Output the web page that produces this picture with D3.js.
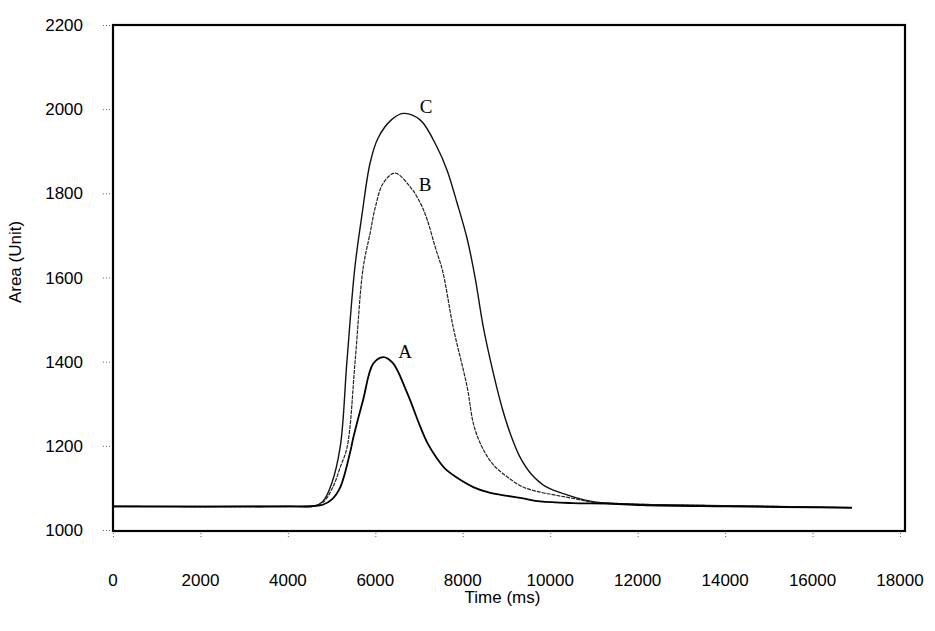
<!DOCTYPE html>
<html>
<head>
<meta charset="utf-8">
<script src="https://cdn.jsdelivr.net/npm/d3@7"></script>
<style>
  body { margin: 0; background: #fff; }
  text { font-family: "Liberation Sans", Arial, sans-serif; }
</style>
</head>
<body>
<div id="chart"></div>
<script>
// Chart data
var xTicks = [0, 2000, 4000, 6000, 8000, 10000, 12000, 14000, 16000, 18000];
var yTicks = [1000, 1200, 1400, 1600, 1800, 2000, 2200];

var timeA = [0, 4000, 4600, 4800, 5000, 5200, 5420, 5500, 5720, 5950, 6180, 6400, 6730, 7030, 7190, 7410, 7600, 7870, 8240, 8630, 9020, 9380, 9770, 10500, 11300, 12100, 14000, 16900];
var areaA = [1056, 1056, 1057, 1060, 1072, 1102, 1183, 1221, 1309, 1395, 1411, 1397, 1325, 1245, 1207, 1170, 1145, 1124, 1102, 1088, 1081, 1075, 1068, 1064, 1063, 1059, 1056, 1053];

var timeB = [0, 4000, 4600, 4800, 5030, 5200, 5355, 5540, 5720, 5880, 6000, 6180, 6450, 6800, 7030, 7190, 7370, 7540, 7780, 8100, 8250, 8450, 8700, 9020, 9380, 9770, 10160, 10530, 10920, 11300, 12500, 14500, 16900];
var areaB = [1056, 1056, 1057, 1065, 1102, 1150, 1197, 1404, 1622, 1705, 1767, 1824, 1848, 1815, 1777, 1736, 1672, 1615, 1482, 1340, 1250, 1195, 1155, 1126, 1102, 1090, 1082, 1075, 1067, 1064, 1060, 1057, 1053];

var timeC = [0, 4000, 4600, 4800, 5000, 5200, 5350, 5530, 5700, 5880, 6060, 6360, 6640, 7030, 7410, 7640, 7870, 8100, 8280, 8470, 8700, 8900, 9100, 9300, 9550, 9900, 10400, 10800, 11200, 12500, 14500, 16900];
var areaC = [1056, 1056, 1057, 1068, 1110, 1200, 1400, 1622, 1753, 1872, 1931, 1974, 1990, 1974, 1910, 1855, 1777, 1692, 1601, 1482, 1372, 1290, 1225, 1175, 1135, 1103, 1083, 1071, 1064, 1060, 1057, 1053];

var curveNames = ["A", "B", "C"];
var labelTime = [6680, 7140, 7160];
var labelArea = [1408, 1805, 1990];

var svgWidth = 935;
var svgHeight = 631;

var margin = { top: 25, left: 113 };
var width = 787;
var height = 505;

var svg = d3.select("#chart")
  .append("svg")
  .attr("width", svgWidth)
  .attr("height", svgHeight);

var chartGroup = svg.append("g")
  .attr("transform", `translate(${margin.left}, ${margin.top})`);

var xScale = d3.scaleLinear().domain([0, 18000]).range([0, width]);
var yScale = d3.scaleLinear().domain([1000, 2200]).range([height, 0]);

// dotted tick marks, labels drawn separately
var bottomAxis = d3.axisBottom(xScale).tickValues(xTicks).tickSize(8).tickFormat("");
var leftAxis = d3.axisLeft(yScale).tickValues(yTicks).tickSize(10).tickFormat("");

var xAxis = chartGroup.append("g")
  .attr("transform", `translate(0, ${height})`)
  .call(bottomAxis);
var yAxis = chartGroup.append("g").call(leftAxis);

[xAxis, yAxis].forEach(function(ax) {
  ax.select(".domain").remove();
  ax.selectAll("line")
    .attr("stroke", "#666")
    .attr("stroke-dasharray", "1,2");
});

// tick labels
chartGroup.selectAll(".xlab")
  .data(xTicks)
  .enter()
  .append("text")
  .attr("class", "xlab")
  .attr("x", d => xScale(d))
  .attr("y", height + 56)
  .attr("text-anchor", "middle")
  .attr("font-size", 17)
  .text(d => d);

chartGroup.selectAll(".ylab")
  .data(yTicks)
  .enter()
  .append("text")
  .attr("class", "ylab")
  .attr("x", -30)
  .attr("y", d => yScale(d) + 6)
  .attr("text-anchor", "end")
  .attr("font-size", 17)
  .text(d => d);

// axis titles
chartGroup.append("text")
  .attr("x", width / 2 - 4)
  .attr("y", height + 73)
  .attr("text-anchor", "middle")
  .attr("font-size", 17)
  .text("Time (ms)");

chartGroup.append("text")
  .attr("transform", "rotate(-90)")
  .attr("x", -237)
  .attr("y", -92)
  .attr("text-anchor", "middle")
  .attr("font-size", 17)
  .text("Area (Unit)");

// curves
var line = d3.line()
  .x(d => xScale(d[0]))
  .y(d => yScale(d[1]))
  .curve(d3.curveCatmullRom.alpha(0.5));

function pairs(t, v) {
  return t.map((d, i) => [d, v[i]]);
}

chartGroup.append("path")
  .datum(pairs(timeC, areaC))
  .attr("d", line)
  .attr("fill", "none")
  .attr("stroke", "#111")
  .attr("stroke-width", 1.4);

chartGroup.append("path")
  .datum(pairs(timeB, areaB))
  .attr("d", line)
  .attr("fill", "none")
  .attr("stroke", "#222")
  .attr("stroke-width", 1.2)
  .attr("stroke-dasharray", "4,1");

chartGroup.append("path")
  .datum(pairs(timeA, areaA))
  .attr("d", line)
  .attr("fill", "none")
  .attr("stroke", "#000")
  .attr("stroke-width", 1.8);

// curve names
chartGroup.selectAll(".cname")
  .data(curveNames)
  .enter()
  .append("text")
  .attr("class", "cname")
  .attr("x", (d, i) => xScale(labelTime[i]))
  .attr("y", (d, i) => yScale(labelArea[i]))
  .attr("text-anchor", "middle")
  .style("font-family", "'Liberation Serif', 'Times New Roman', serif")
  .attr("font-size", 19)
  .text(d => d);

// plot frame
chartGroup.append("rect")
  .attr("x", 0)
  .attr("y", 0)
  .attr("width", width + 5)
  .attr("height", height + 1)
  .attr("fill", "none")
  .attr("stroke", "#000")
  .attr("stroke-width", 2.2);
</script>
</body>
</html>
